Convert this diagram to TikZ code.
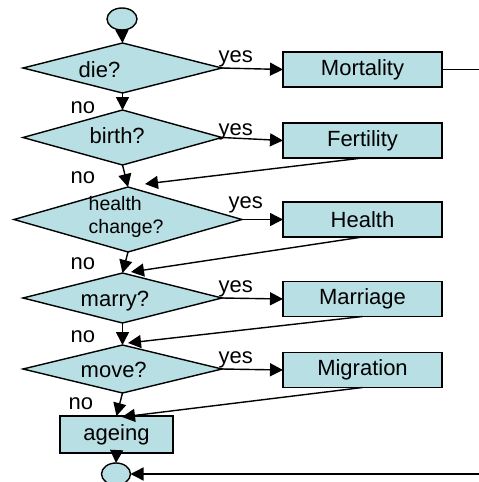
\documentclass[tikz,border=0pt]{standalone}
\usepackage{fontspec}
\setmainfont{Liberation Sans}
\usetikzlibrary{shapes.geometric,arrows.meta}
\definecolor{fillc}{RGB}{184,223,227}
\begin{document}
\begin{tikzpicture}[x=1pt,y=-1pt, line width=1.4pt,
 arr/.style={-{Triangle[length=13pt,width=13pt]}},
 dia/.style={diamond, draw, fill=fillc, inner sep=0pt, outer sep=0pt},
 box/.style={rectangle, draw, fill=fillc, minimum width=159pt, minimum height=35pt, inner sep=0pt, outer sep=0pt, font=\fontsize{22}{24}\selectfont},
 term/.style={ellipse, draw, fill=fillc, minimum width=30pt, minimum height=22pt, inner sep=0pt, outer sep=0pt},
 lbl/.style={anchor=base west, inner sep=0pt, font=\fontsize{22}{24}\selectfont},
 slbl/.style={anchor=base west, inner sep=0pt, font=\fontsize{19.5}{22}\selectfont}]
\useasboundingbox (0,0) rectangle (479,482);
% shapes
\node[term] (start) at (122,19) {};
\node[dia, minimum width=199pt, minimum height=50pt] (die) at (122.5,68) {};
\node[dia, minimum width=199pt, minimum height=55pt] (birth) at (122.5,137.5) {};
\node[dia, minimum width=228pt, minimum height=65pt] (health) at (128,219.5) {};
\node[dia, minimum width=199pt, minimum height=50pt] (marry) at (122.5,298) {};
\node[dia, minimum width=199pt, minimum height=48pt] (move) at (122.5,369) {};
\node[box, minimum width=113pt, minimum height=37pt] (ageing) at (116.5,434.5) {ageing};
\node[term, minimum width=29pt] (stop) at (116,474) {};
\node[box] (Mortality) at (362.5,69.5) {Mortality};
\node[box] (Fertility) at (362.5,140.5) {Fertility};
\node[box] (Health) at (362.5,219.5) {Health};
\node[box] (Marriage) at (362.5,299) {Marriage};
\node[box] (Migration) at (362.5,370) {Migration};
% diamond texts
\node[lbl] (tdie) at (78,77) {die?};
\node[lbl] (tbirth) at (89,143) {birth?};
\node[slbl] (thealtha) at (88,210) {health};
\node[slbl] (thealthb) at (88,233) {change?};
\node[lbl] (tmarry) at (80,306) {marry?};
\node[lbl] (tmove) at (80,377) {move?};
% yes / no labels
\node[lbl] (y1) at (218,62) {yes};
\node[lbl] (y2) at (218,135) {yes};
\node[lbl] (y3) at (228,208) {yes};
\node[lbl] (y4) at (218,292) {yes};
\node[lbl] (y5) at (218,363) {yes};
\node[lbl] (n1) at (70,113) {no};
\node[lbl] (n2) at (70,183) {no};
\node[lbl] (n3) at (70,269) {no};
\node[lbl] (n4) at (70,342) {no};
\node[lbl] (n5) at (68,409) {no};
% connectors
\draw[arr] (start.south) -- (die.north);
\draw[arr] (die.east) -- (Mortality.west);
\draw[arr] (die.south) -- (birth.north);
\draw[arr] (birth.east) -- (Fertility.west);
\draw[arr] (birth.south) -- (health.north);
\draw[arr] (health.east) -- (Health.west);
\draw[arr] (health.south) -- (marry.north);
\draw[arr] (marry.east) -- (Marriage.west);
\draw[arr] (marry.south) -- (move.north);
\draw[arr] (move.east) -- (Migration.west);
\draw[arr] (move.south) -- (ageing.north);
\draw[arr] (ageing.south) -- (stop.north);
\coordinate (hin) at (145,184);
\coordinate (min) at (131,272);
\coordinate (vin) at (128,343);
\coordinate (ain) at (122,417);
\draw[arr] (Fertility.south) -- (hin);
\draw[arr] (Health.south) -- (min);
\draw[arr] (Marriage.south) -- (vin);
\draw[arr] (Migration.south) -- (ain);
\coordinate (r1) at (495,69.5);
\coordinate (r2) at (495,474);
\draw[arr] (Mortality.east) -- (r1) -- (r2) -- (stop.east);
\end{tikzpicture}
\end{document}
